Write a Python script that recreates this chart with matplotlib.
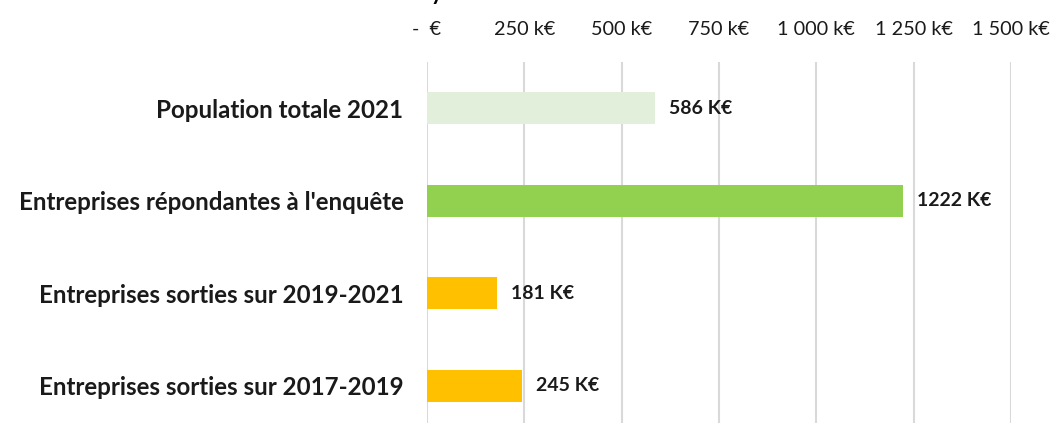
import matplotlib
matplotlib.use('Agg')
import matplotlib.pyplot as plt

categories = ["Population totale 2021",
              "Entreprises répondantes à l'enquête",
              "Entreprises sorties sur 2019-2021",
              "Entreprises sorties sur 2017-2019"]
values = [586, 1222, 181, 245]
colors = ["#E2EFDA", "#92D050", "#FFC000", "#FFC000"]
xticks = [0, 250, 500, 750, 1000, 1250, 1500]
xtick_labels = ["-  €", "250 k€", "500 k€", "750 k€", "1 000 k€", "1 250 k€", "1 500 k€"]

plt.rcParams['font.family'] = ['Lato', 'DejaVu Sans']

fig = plt.figure(figsize=(10.59, 4.23), dpi=100)
ax = fig.add_axes([427 / 1059, -9 / 423, (1011 - 427) / 1059, (432 - 62) / 423])

pos = list(range(len(categories)))
ax.barh(pos, values, height=0.35, color=colors, zorder=3)
for p, v in zip(pos, values):
    ax.annotate(f"{v} K€", (v, p), xytext=(10, 0), textcoords='offset points',
                va='center', ha='left', fontsize=14, fontweight='bold', color='#1a1a1a')

ax.set_xlim(0, 1500)
ax.set_ylim(len(categories) - 0.5, -0.5)
ax.set_yticks(pos)
ax.set_yticklabels(categories, fontsize=17.4, fontweight='bold', color='#1a1a1a')
ax.set_xticks(xticks)
ax.set_xticklabels(xtick_labels, fontsize=14.3, color='#1a1a1a')
ax.xaxis.tick_top()
ax.tick_params(axis='x', length=0, pad=17)
ax.tick_params(axis='y', length=0, pad=17)
ax.grid(axis='x', color='#d9d9d9', linewidth=1.5, zorder=0)
for s in ax.spines.values():
    s.set_visible(False)

# descender of the cut-off title at the top edge
fig.text(437 / 1059, 1.0, "y", fontsize=16, fontweight='bold', ha='center', va='baseline')

fig.savefig('out.png', dpi=100)
